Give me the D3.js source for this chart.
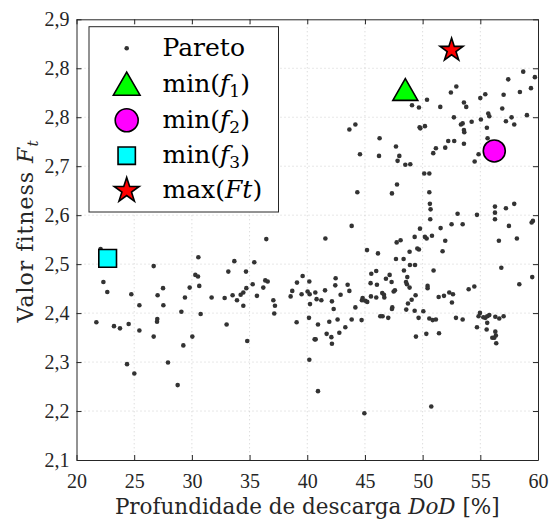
<!DOCTYPE html>
<html>
<head>
<meta charset="utf-8">
<script src="https://cdn.jsdelivr.net/npm/d3@7"></script>
<style>
  html, body { margin: 0; padding: 0; background: #fff; }
  svg { display: block; }
</style>
</head>
<body>
<svg id="chart" width="549" height="525"></svg>
<script>
// ---------------- DATA ----------------
const xTickValues = [20, 25, 30, 35, 40, 45, 50, 55, 60];
const yTickLabels = ["2,1", "2,2", "2,3", "2,4", "2,5", "2,6", "2,7", "2,8", "2,8", "2,9"];

// Pareto front points: depth of discharge DoD [%] and fitness Ft
const paretoDoD = [
  58.72, 59.73, 57.42, 58.43, 59.39, 57.02, 55.43, 55.00, 52.92, 52.45,
  50.38, 53.58, 53.78, 51.53, 49.08, 49.68, 56.90, 55.69, 55.78, 59.04,
  57.71, 57.22, 57.94, 55.05, 54.25, 52.71, 53.47, 53.32, 53.58, 53.61,
  55.57, 55.63, 44.17, 43.65, 49.74, 50.20, 49.80, 46.27, 47.69, 47.98,
  47.83, 48.50, 48.93, 46.22, 44.57, 51.15, 50.92, 51.96, 52.22, 52.74,
  53.58, 54.85, 54.51, 50.14, 50.58, 47.78, 47.34, 44.34, 50.58, 50.63,
  50.69, 56.27, 57.22, 57.94,
  56.27, 50.66, 56.27, 53.03, 54.71, 53.47, 52.51, 51.56, 49.77, 57.48,
  59.45, 59.56, 43.85, 41.57, 58.17, 56.61, 51.96, 50.20, 50.35, 50.81,
  49.31, 48.09, 47.75, 49.54, 49.68, 48.87, 51.73, 45.18, 46.13, 47.69,
  48.35, 48.90, 49.34, 50.95, 56.82, 48.38, 45.98, 45.55, 47.14, 48.67,
  46.82, 59.50, 48.56, 47.31, 45.49, 46.04, 48.64, 58.38, 50.43, 50.43,
  48.87, 47.60, 47.49, 46.50, 46.65, 46.68, 45.98, 45.52, 45.20, 45.03,
  44.80, 44.74, 44.17, 43.50, 43.65, 42.89, 42.46, 42.43, 41.54, 42.14,
  42.29, 41.22, 40.81, 40.70, 40.18, 40.03, 40.21, 39.51, 39.60, 40.24,
  40.15, 40.93, 41.91, 42.63, 43.85, 44.71, 43.30, 42.78, 41.68, 42.09,
  42.14, 40.64, 40.73, 40.18, 40.93, 46.33, 46.53, 47.02, 47.37, 47.34,
  48.58, 48.73, 49.05, 49.39, 49.31, 50.06, 49.65, 49.42, 50.32, 50.58,
  50.87, 51.15, 51.42, 51.39, 51.85, 52.31, 52.63, 52.54, 52.89, 53.47,
  53.99, 54.48, 54.97, 54.85, 55.26, 55.43, 55.60, 55.78, 55.60, 56.30,
  56.64, 57.02, 54.71, 55.55, 56.30, 56.35, 56.21, 56.04, 56.38,
  22.09, 22.33, 22.67, 21.72, 23.25, 23.77, 24.52, 24.75, 25.45, 25.45,
  24.38, 25.01, 26.69, 27.50, 27.03, 27.53, 27.00, 26.98, 26.69, 27.93,
  28.77, 29.09, 29.26, 29.40, 29.81, 30.04, 30.30, 30.53, 30.56, 30.64,
  30.76, 31.71, 32.84, 33.01, 33.16, 33.68, 33.53, 33.91, 34.23, 34.46,
  34.46, 34.72, 34.69, 34.80, 35.27, 35.41, 35.64, 36.19, 36.36, 36.57,
  36.45, 37.06, 37.20, 37.14, 38.56, 38.70, 39.11, 39.08,
  44.95, 50.75
];
const paretoFt = [
  2.805, 2.795, 2.791, 2.768, 2.775, 2.763, 2.764, 2.757, 2.778, 2.767,
  2.754, 2.749, 2.741, 2.741, 2.744, 2.740, 2.738, 2.729, 2.724, 2.726,
  2.722, 2.715, 2.709, 2.718, 2.714, 2.722, 2.711, 2.709, 2.699, 2.695,
  2.703, 2.684, 2.709, 2.700, 2.704, 2.706, 2.702, 2.684, 2.669, 2.652,
  2.643, 2.636, 2.637, 2.652, 2.655, 2.666, 2.657, 2.667, 2.679, 2.679,
  2.674, 2.655, 2.642, 2.620, 2.620, 2.600, 2.584, 2.586, 2.586, 2.565,
  2.555, 2.560, 2.557, 2.565,
  2.549, 2.537, 2.537, 2.547, 2.545, 2.528, 2.528, 2.521, 2.520, 2.525,
  2.531, 2.534, 2.525, 2.502, 2.502, 2.498, 2.498, 2.505, 2.502, 2.507,
  2.505, 2.499, 2.495, 2.484, 2.482, 2.478, 2.479, 2.481, 2.475, 2.465,
  2.465, 2.454, 2.454, 2.444, 2.449, 2.444, 2.443, 2.438, 2.436, 2.432,
  2.429, 2.432, 2.423, 2.423, 2.421, 2.418, 2.419, 2.419, 2.416, 2.412,
  2.413, 2.408, 2.406, 2.403, 2.400, 2.395, 2.395, 2.397, 2.387, 2.389,
  2.394, 2.390, 2.377, 2.418, 2.407, 2.400, 2.430, 2.417, 2.408, 2.388,
  2.374, 2.390, 2.392, 2.404, 2.424, 2.406, 2.401, 2.401, 2.434, 2.383,
  2.358, 2.346, 2.351, 2.355, 2.355, 2.354, 2.341, 2.331, 2.329, 2.323,
  2.311, 2.319, 2.319, 2.282, 2.225, 2.361, 2.361, 2.358, 2.377, 2.374,
  2.373, 2.384, 2.391, 2.399, 2.371, 2.370, 2.358, 2.324, 2.329, 2.357,
  2.354, 2.355, 2.330, 2.396, 2.398, 2.404, 2.401, 2.386, 2.358, 2.355,
  2.410, 2.415, 2.367, 2.361, 2.359, 2.358, 2.361, 2.363, 2.349, 2.360,
  2.357, 2.361, 2.341, 2.337, 2.333, 2.326, 2.322, 2.322, 2.312,
  2.483, 2.423, 2.405, 2.350, 2.343, 2.339, 2.347, 2.401, 2.381, 2.335,
  2.274, 2.257, 2.452, 2.412, 2.399, 2.381, 2.356, 2.351, 2.324, 2.277,
  2.236, 2.369, 2.308, 2.395, 2.413, 2.324, 2.436, 2.433, 2.468, 2.416,
  2.365, 2.395, 2.394, 2.346, 2.442, 2.461, 2.399, 2.390, 2.400, 2.404,
  2.380, 2.412, 2.442, 2.316, 2.419, 2.459, 2.398, 2.413, 2.426, 2.424,
  2.501, 2.390, 2.380, 2.366, 2.397, 2.407, 2.422, 2.350,
  2.185, 2.197
];

// Highlighted solutions
const specialNames = ["min(f1)", "min(f2)", "min(f3)", "max(Ft)"];
const specialDoD   = [48.50, 56.21, 22.70, 52.51];
const specialFt    = [2.766, 2.661, 2.466, 2.844];
const specialFill  = ["#00ff00", "#ff00ff", "#00ffff", "#ff0000"];

// ---------------- CHART ----------------
const svg = d3.select("#chart");
const pL = 76.5, pR = 538, pT = 19.3, pB = 460;
const axisColor = "#262626";
const tickFont = "'Liberation Serif', 'Times New Roman', serif";
const labelFont = "'DejaVu Serif', serif";

const x = d3.scaleLinear().domain([20, 60]).range([pL, pR]);
const y = d3.scaleLinear().domain([2.1, 2.9]).range([pB, pT]);
const yTickValues = yTickLabels.map((_, i) => 2.1 + i * 0.8 / 9);

// grid
const grid = svg.append("g").attr("stroke", "#cfcfcf").attr("stroke-width", 1)
  .attr("stroke-dasharray", "1,3");
grid.selectAll("line.v").data(xTickValues.slice(1, -1)).join("line")
  .attr("x1", d => x(d)).attr("x2", d => x(d)).attr("y1", pT).attr("y2", pB);
grid.selectAll("line.h").data(yTickValues.slice(1, -1)).join("line")
  .attr("x1", pL).attr("x2", pR).attr("y1", d => y(d)).attr("y2", d => y(d));

// axes
function styleAxis(g) {
  g.attr("font-family", tickFont).attr("font-size", 20);
  g.selectAll("path, line").attr("stroke", axisColor).attr("stroke-width", 1);
  g.selectAll("text").attr("fill", axisColor);
}
svg.append("g").attr("transform", `translate(0,${pB})`)
  .call(d3.axisBottom(x).tickValues(xTickValues).tickFormat(d3.format("d"))
    .tickSizeInner(-5).tickSizeOuter(0).tickPadding(14))
  .call(styleAxis);
svg.append("g").attr("transform", `translate(0,${pT})`)
  .call(d3.axisTop(x).tickValues(xTickValues).tickFormat("")
    .tickSizeInner(-5).tickSizeOuter(0))
  .call(styleAxis);
svg.append("g").attr("transform", `translate(${pL},0)`)
  .call(d3.axisLeft(y).tickValues(yTickValues).tickFormat((d, i) => yTickLabels[i])
    .tickSizeInner(-5).tickSizeOuter(0).tickPadding(7))
  .call(styleAxis);
svg.append("g").attr("transform", `translate(${pR},0)`)
  .call(d3.axisRight(y).tickValues(yTickValues).tickFormat("")
    .tickSizeInner(-5).tickSizeOuter(0))
  .call(styleAxis);

// pareto points
const pts = paretoDoD.map((d, i) => ({ x: d, y: paretoFt[i] }));
svg.append("g").selectAll("circle").data(pts).join("circle")
  .attr("cx", d => x(d.x)).attr("cy", d => y(d.y)).attr("r", 2.3)
  .attr("fill", "#333333");

// special markers
const symbolTypes = [d3.symbolTriangle, d3.symbolCircle, d3.symbolSquare, d3.symbolStar];
const symbolSizes = [270, 380, 313, 164];
const legendSizes = [308, 415, 300, 193];
svg.append("g").selectAll("path").data(specialNames).join("path")
  .attr("transform", (d, i) => `translate(${x(specialDoD[i])},${y(specialFt[i])})`)
  .attr("d", (d, i) => d3.symbol().type(symbolTypes[i]).size(symbolSizes[i])())
  .attr("fill", (d, i) => specialFill[i])
  .attr("stroke", "#000").attr("stroke-width", 1.6).attr("stroke-linejoin", "miter");

// legend
const lg = svg.append("g");
lg.append("rect").attr("x", 89).attr("y", 26.7).attr("width", 189.5).attr("height", 185.3)
  .attr("fill", "#fff").attr("stroke", axisColor).attr("stroke-width", 1);
const rowY = [48.3, 84.5, 120.2, 155.7, 190.5];
const symX = 126.7, textX = 162.5;
lg.append("circle").attr("cx", symX).attr("cy", rowY[0]).attr("r", 2.3).attr("fill", "#333333");
specialNames.forEach((n, i) => {
  const yy = rowY[i + 1] + (i === 0 ? 3 : 0);
  lg.append("path").attr("transform", `translate(${symX},${yy})`)
    .attr("d", d3.symbol().type(symbolTypes[i]).size(legendSizes[i])())
    .attr("fill", specialFill[i]).attr("stroke", "#000").attr("stroke-width", 1.6);
});
const legendText = (i) => lg.append("text").attr("x", textX).attr("y", rowY[i] + 7.5)
  .attr("font-family", labelFont).attr("font-size", 25).attr("fill", "#000");
legendText(0).text("Pareto");
[1, 2, 3].forEach(k => {
  const t = legendText(k);
  t.append("tspan").text("min(");
  t.append("tspan").attr("font-style", "italic").text("f");
  t.append("tspan").attr("font-size", 17).attr("dy", 5).text(String(k));
  t.append("tspan").attr("dy", -5).text(")");
});
{
  const t = legendText(4);
  t.append("tspan").text("max(");
  t.append("tspan").attr("font-style", "italic").text("Ft");
  t.append("tspan").text(")");
}

// axis labels
const xl = svg.append("text").attr("x", (pL + pR) / 2).attr("y", 514)
  .attr("text-anchor", "middle").attr("font-family", labelFont).attr("font-size", 21.5)
  .attr("fill", axisColor);
xl.append("tspan").text("Profundidade de descarga ");
xl.append("tspan").attr("font-style", "italic").text("DoD");
xl.append("tspan").text(" [%]");

const yl = svg.append("text").attr("transform", "translate(33,231) rotate(-90)")
  .attr("text-anchor", "middle").attr("font-family", labelFont).attr("font-size", 22)
  .attr("letter-spacing", 1).attr("fill", axisColor);
yl.append("tspan").text("Valor fitness ");
yl.append("tspan").attr("font-style", "italic").text("F");
yl.append("tspan").attr("font-style", "italic").attr("font-size", 15).attr("dy", 5).text("t");
</script>
</body>
</html>
